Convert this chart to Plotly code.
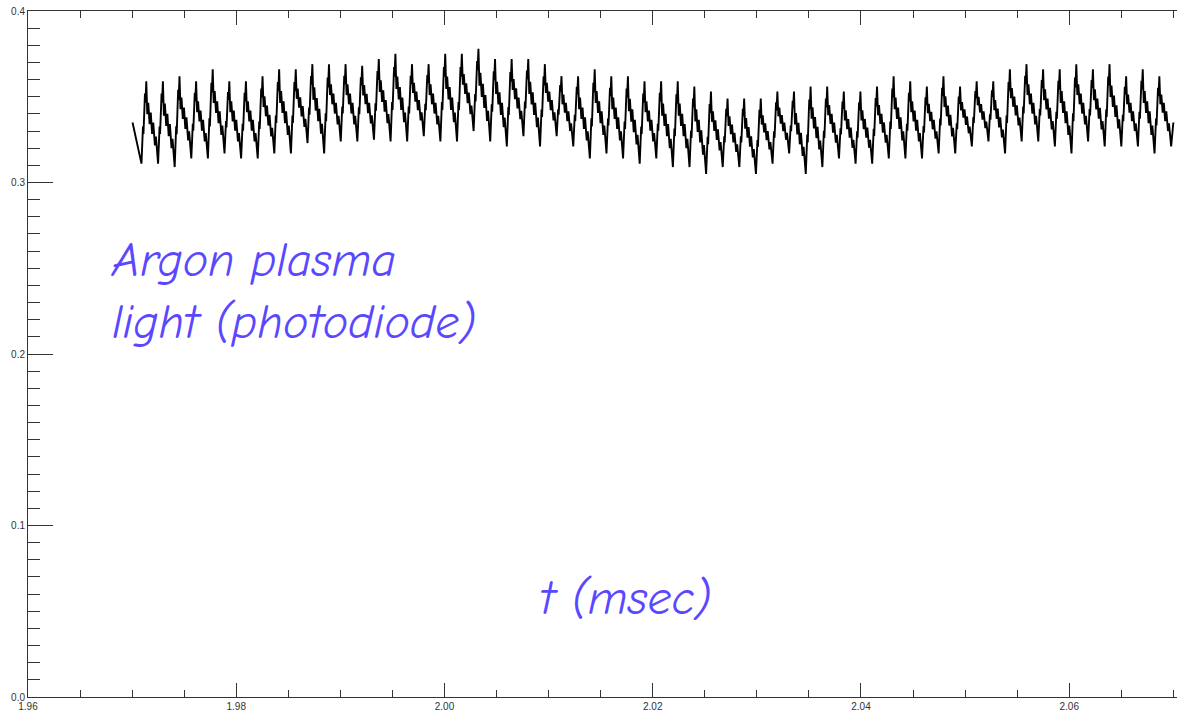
import plotly.graph_objects as go

# ---- data (signal in arbitrary units vs t in msec) ----
t_start = 1.97004          # first sample
v_start = 0.335
t_first_peak = 1.97136
period = 0.001595          # oscillation period (msec)
t_end = 2.0700
v_end = 0.335

trough0 = 0.311
peaks = [0.359, 0.359, 0.362, 0.359, 0.366, 0.359, 0.359, 0.362, 0.366, 0.366,
         0.369, 0.369, 0.369, 0.368, 0.372, 0.375, 0.369, 0.369, 0.375, 0.375,
         0.378, 0.372, 0.372, 0.372, 0.369, 0.362, 0.362, 0.366, 0.362, 0.362,
         0.359, 0.359, 0.359, 0.356, 0.353, 0.349, 0.349, 0.349, 0.353, 0.353,
         0.356, 0.356, 0.353, 0.353, 0.356, 0.362, 0.359, 0.356, 0.362, 0.356,
         0.359, 0.359, 0.366, 0.369, 0.366, 0.366, 0.369, 0.366, 0.369, 0.362,
         0.366, 0.362]
troughs = [0.311, 0.309, 0.314, 0.314, 0.317, 0.314, 0.314, 0.317, 0.317, 0.323,
           0.317, 0.324, 0.324, 0.325, 0.324, 0.324, 0.327, 0.324, 0.324, 0.330,
           0.324, 0.321, 0.327, 0.321, 0.327, 0.321, 0.314, 0.317, 0.314, 0.311,
           0.314, 0.309, 0.309, 0.305, 0.309, 0.309, 0.305, 0.311, 0.317, 0.305,
           0.309, 0.314, 0.311, 0.311, 0.314, 0.314, 0.314, 0.317, 0.317, 0.321,
           0.324, 0.317, 0.324, 0.324, 0.321, 0.317, 0.324, 0.321, 0.321, 0.321,
           0.317, 0.321]

# within-cycle waveform shape:
# phase after the peak (fraction of a period) and level (0 = trough, 1 = peak)
shape_phase = [-0.20, -0.17, -0.08, -0.05, 0.00, 0.06, 0.12, 0.20, 0.27,
               0.35, 0.42, 0.52, 0.58, 0.71]
shape_level = [0.45, 0.36, 0.85, 0.74, 1.00, 0.60, 0.74, 0.48, 0.62,
               0.36, 0.50, 0.22, 0.33, 0.00]

x_ticks = [1.96, 1.98, 2.00, 2.02, 2.04, 2.06]
x_ticklabels = ["1.96", "1.98", "2.00", "2.02", "2.04", "2.06"]
y_ticks = [0.0, 0.1, 0.2, 0.3, 0.4]
y_ticklabels = ["0.0", "0.1", "0.2", "0.3", "0.4"]

# ---- assemble the trace ----
t = [t_start, t_first_peak - 0.29 * period]
v = [v_start, trough0]
prev_trough = trough0
for i, (p, tr) in enumerate(zip(peaks, troughs)):
    tp = t_first_peak + i * period
    for ph, lv in zip(shape_phase, shape_level):
        base = prev_trough if ph < 0 else tr
        t.append(tp + ph * period)
        v.append(base + lv * (p - base))
    prev_trough = tr
t.append(t_end)
v.append(v_end)

fig = go.Figure()
fig.add_trace(go.Scatter(x=t, y=v, mode="lines",
                         line=dict(color="black", width=1.9),
                         showlegend=False, hoverinfo="skip"))

label_font = dict(family="Comic Sans MS, Comic Neue, Lato", size=48,
                  color="#5a47ff", style="italic")
fig.add_annotation(x=1.96780, y=0.2720, xref="x", yref="y",
                   text="Argon plasma<br>light (photodiode)",
                   showarrow=False, xanchor="left", yanchor="top",
                   align="left", font=label_font)
fig.add_annotation(x=2.00900, y=0.0576, xref="x", yref="y",
                   text="t (msec)", showarrow=False,
                   xanchor="left", yanchor="middle", font=label_font)

tick_font = dict(family="Liberation Sans, Arial", size=10, color="#333333")
fig.update_xaxes(range=[1.96, 2.07035], tickvals=x_ticks, ticktext=x_ticklabels,
                 ticks="inside", ticklen=14, tickwidth=1, tickcolor="#333",
                 showline=True, linecolor="#333", linewidth=1, mirror="ticks",
                 showgrid=False, zeroline=False, tickfont=tick_font,
                 automargin=False,
                 minor=dict(dtick=0.005, tick0=1.96, ticks="inside", ticklen=7,
                            tickcolor="#333", showgrid=False))
fig.update_yaxes(range=[0, 0.4], tickvals=y_ticks, ticktext=y_ticklabels,
                 ticks="inside", ticklen=25, tickwidth=1, tickcolor="#333",
                 showline=True, linecolor="#333", linewidth=1,
                 showgrid=False, zeroline=False, tickfont=tick_font,
                 automargin=False,
                 minor=dict(dtick=0.01, tick0=0, ticks="inside", ticklen=12,
                            tickcolor="#333", showgrid=False))
fig.update_layout(width=1177, height=715,
                  margin=dict(l=28, r=0, t=11, b=18),
                  paper_bgcolor="white", plot_bgcolor="white")
fig.write_html("out.html", config={"displayModeBar": False},
               post_script="document.body.style.margin='0';document.body.style.overflow='hidden';")
